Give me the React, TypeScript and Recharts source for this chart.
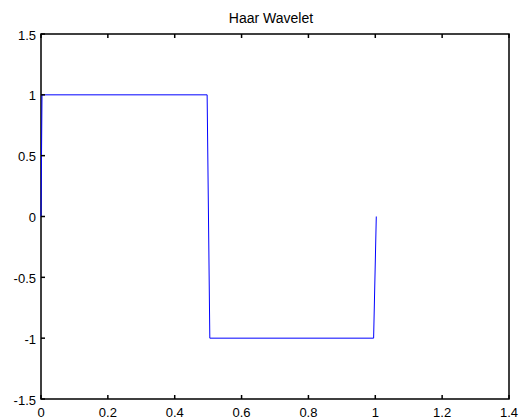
import { Line, LineChart, ReferenceArea, XAxis, YAxis } from "recharts";

const xValues = [0, 0.003, 0.497, 0.505, 0.995, 1.003];
const yValues = [0, 1, 1, -1, -1, 0];
const xTicks = [0, 0.2, 0.4, 0.6, 0.8, 1, 1.2, 1.4];
const yTicks = [-1.5, -1, -0.5, 0, 0.5, 1, 1.5];
const xDomain = [0, 1.4];
const yDomain = [-1.5, 1.5];

const points = xValues.map((x, i) => ({ x, y: yValues[i] }));

const FONT = "'Liberation Sans', Arial, sans-serif";
const TICK_W = 1.5;

// inward tick marks, labels only on bottom/left
function BottomTick(props: any) {
  const { x, y, payload } = props;
  return (
    <g>
      <line x1={x} y1={y} x2={x} y2={y - 4} stroke="#000" strokeWidth={TICK_W} />
      <text x={x} y={y + 17.5} textAnchor="middle" fontSize={13} fontFamily={FONT} fill="#000">
        {payload.value}
      </text>
    </g>
  );
}

function TopTick(props: any) {
  const { x, y } = props;
  return <line x1={x} y1={y} x2={x} y2={y + 4} stroke="#000" strokeWidth={TICK_W} />;
}

function LeftTick(props: any) {
  const { x, y, payload } = props;
  return (
    <g>
      <line x1={x} y1={y} x2={x + 4} y2={y} stroke="#000" strokeWidth={TICK_W} />
      <text x={x - 5} y={y + 5.5} textAnchor="end" fontSize={13} fontFamily={FONT} fill="#000">
        {payload.value}
      </text>
    </g>
  );
}

function RightTick(props: any) {
  const { x, y } = props;
  return <line x1={x} y1={y} x2={x - 4} y2={y} stroke="#000" strokeWidth={TICK_W} />;
}

export default function App() {
  return (
    <div style={{ position: "absolute", left: 0, top: 0, width: 519, height: 419, background: "#fff" }}>
      <svg width={519} height={30} style={{ position: "absolute", left: 0, top: 0 }}>
        <text x={271} y={23} textAnchor="middle" fontSize={14} fontFamily={FONT} fill="#000">
          Haar Wavelet
        </text>
      </svg>
      <LineChart width={519} height={419} data={points} margin={{ top: 33, right: 9, bottom: 0, left: 0 }}>
        <XAxis
          xAxisId="bottom"
          dataKey="x"
          type="number"
          domain={xDomain}
          ticks={xTicks}
          orientation="bottom"
          height={20}
          tickLine={false}
          tickSize={0}
          tickMargin={0}
          axisLine={false}
          tick={<BottomTick />}
          interval={0}
        />
        <XAxis
          xAxisId="top"
          dataKey="x"
          type="number"
          domain={xDomain}
          ticks={xTicks}
          orientation="top"
          height={1}
          tickLine={false}
          tickSize={0}
          tickMargin={0}
          axisLine={false}
          tick={<TopTick />}
          interval={0}
        />
        <YAxis
          yAxisId="left"
          type="number"
          domain={yDomain}
          ticks={yTicks}
          orientation="left"
          width={41}
          tickLine={false}
          tickSize={0}
          tickMargin={0}
          axisLine={false}
          tick={<LeftTick />}
          interval={0}
        />
        <YAxis
          yAxisId="right"
          type="number"
          domain={yDomain}
          ticks={yTicks}
          orientation="right"
          width={1}
          tickLine={false}
          tickSize={0}
          tickMargin={0}
          axisLine={false}
          tick={<RightTick />}
          interval={0}
        />
        <ReferenceArea
          xAxisId="bottom"
          yAxisId="left"
          x1={xDomain[0]}
          x2={xDomain[1]}
          y1={yDomain[0]}
          y2={yDomain[1]}
          fill="none"
          fillOpacity={0}
          stroke="#000"
          strokeWidth={1.5}
          strokeOpacity={1}
          ifOverflow="visible"
        />
        <Line
          xAxisId="bottom"
          yAxisId="left"
          type="linear"
          dataKey="y"
          stroke="#0000ff"
          strokeWidth={1}
          dot={false}
          activeDot={false}
          isAnimationActive={false}
        />
      </LineChart>
    </div>
  );
}
